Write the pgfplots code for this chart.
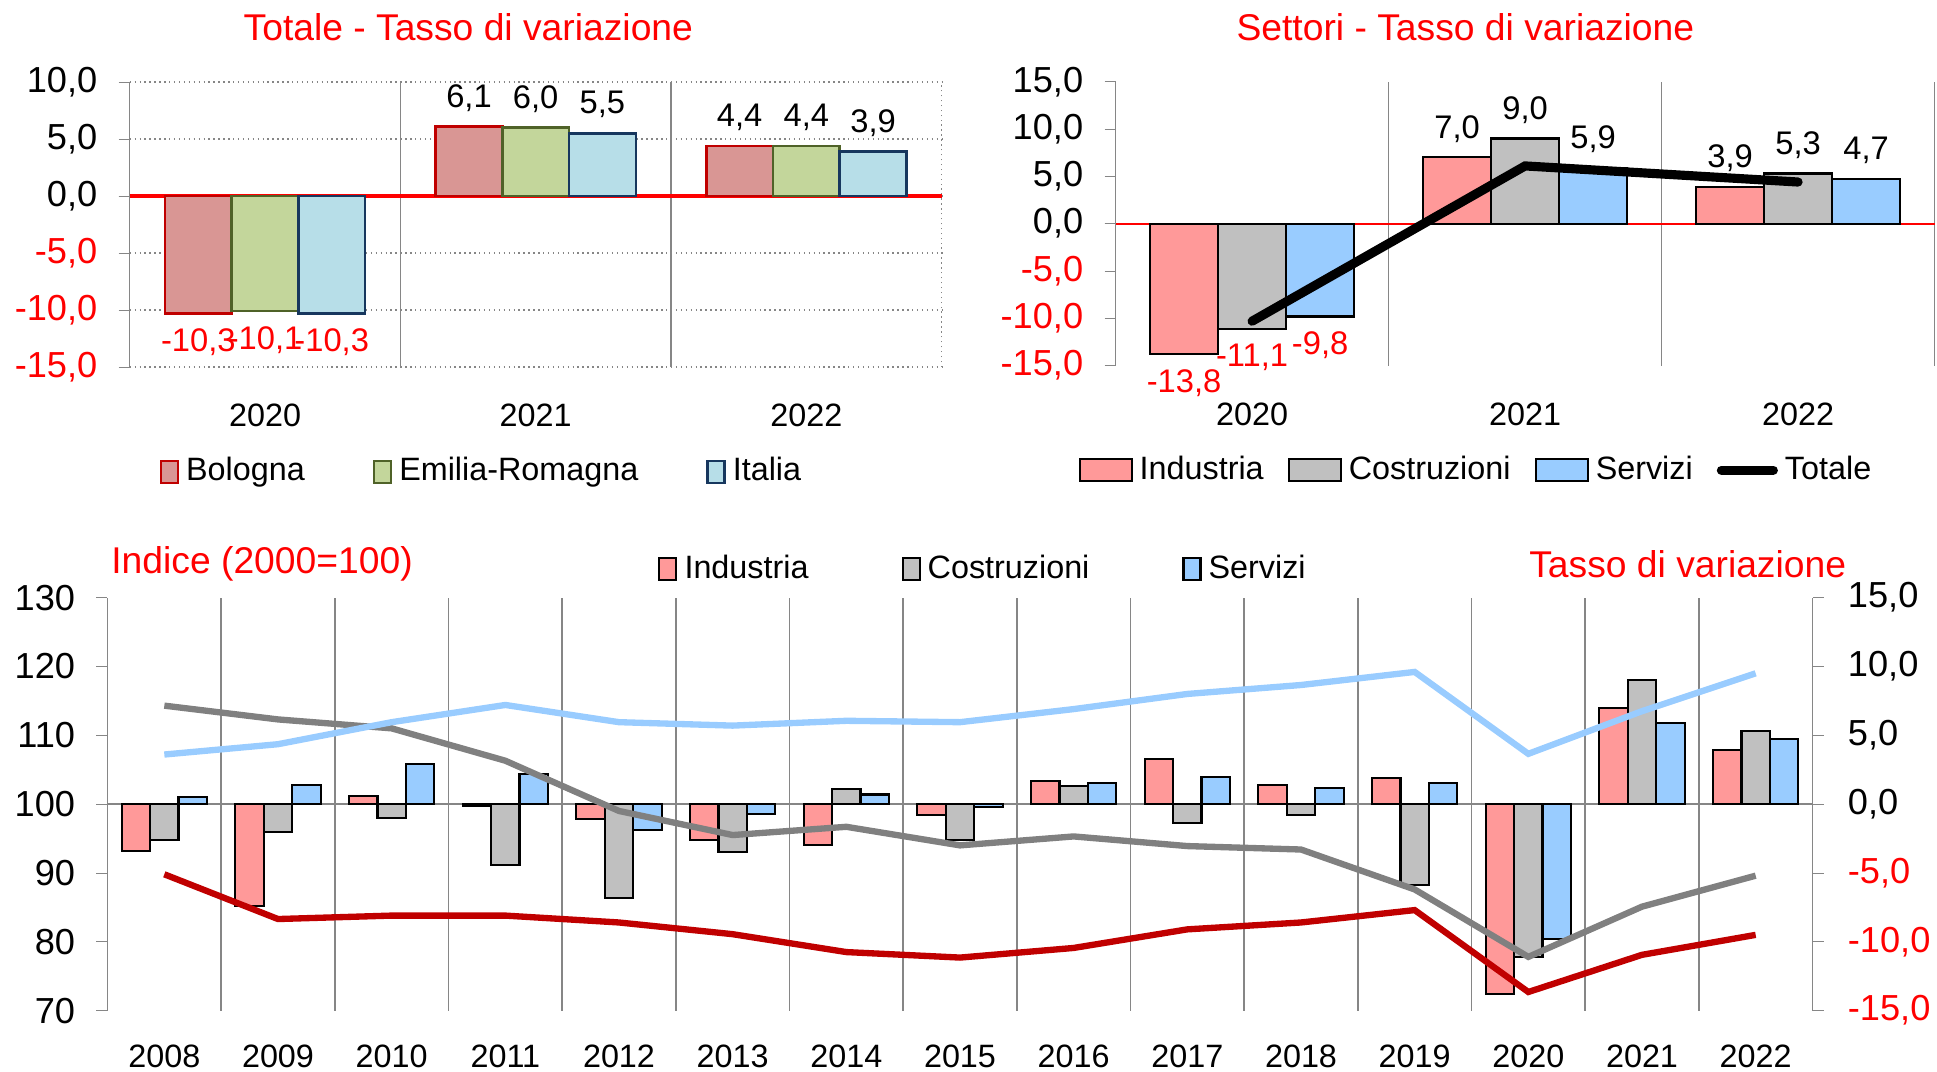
\documentclass[border=0pt]{standalone}
\usepackage{pgfplots}
\pgfplotsset{compat=1.18}
\usepackage{fontspec}
\setmainfont{Liberation Sans}

\definecolor{xred}{HTML}{FF0000}
\definecolor{axgray}{HTML}{868686}
\definecolor{bolfill}{HTML}{D99694}
\definecolor{boldraw}{HTML}{C00000}
\definecolor{erfill}{HTML}{C3D69B}
\definecolor{erdraw}{HTML}{4F6228}
\definecolor{itfill}{HTML}{B7DEE8}
\definecolor{itdraw}{HTML}{17375E}
\definecolor{indfill}{HTML}{FF9999}
\definecolor{cosfill}{HTML}{C0C0C0}
\definecolor{serfill}{HTML}{99CCFF}
\definecolor{indline}{HTML}{C00000}
\definecolor{cosline}{HTML}{808080}

\newcommand\fsT{\fontsize{10.6}{12}\selectfont}
\newcommand\fsY{\fontsize{10.3}{12}\selectfont}
\newcommand\fsX{\fontsize{9.2}{11}\selectfont}
\newcommand\fsL{\fontsize{9.3}{11}\selectfont}

\pgfplotsset{
  every axis title shift=0pt,
  panel/.style={
    scale only axis, anchor=south west,
    axis lines=left, axis line style={-, draw=axgray},
    x axis line style={draw=none},
    tick align=outside, major tick length=1.1mm,
    xtick style={draw=none}, ytick style={draw=axgray},
    yticklabel style={font=\fsY, xshift=-0.9mm},
    xticklabel style={font=\fsX, yshift=-1.4mm},
    minor grid style={axgray},
    title style={font=\fsT, text=xred, anchor=center},
    legend style={draw=none, fill=none, font=\fsX, legend columns=-1, anchor=west},
  },
  sq/.style={legend image code/.code={\draw[##1] (0mm,-1.1mm) rectangle (1.7mm,1.1mm);}},
  wide/.style={legend image code/.code={\draw[##1] (0mm,-1.1mm) rectangle (5.2mm,1.1mm);}},
  lineleg/.style={legend image code/.code={\draw[##1] (0mm,0mm) -- (5.2mm,0mm);}},
  lbl/.style={nodes near coords, point meta=explicit symbolic,
    visualization depends on={rawy \as \rawy},
    every node near coord/.append style={font=\fsL, inner sep=1.4mm},
    every node near coord/.append code={\ifdim\rawy pt<0pt \pgfkeysalso{/tikz/anchor=north}\else\pgfkeysalso{/tikz/anchor=south}\fi}},
}

\begin{document}
\begin{tikzpicture}
\useasboundingbox (0,0) rectangle (193.7mm,107.2mm);

% Totale - Tasso di variazione
\begin{axis}[panel, at={(12.97mm,70.5mm)}, width=81.2mm, height=28.5mm,
  ybar=0pt, bar width=6.67mm, sq,
  xmin=-0.5, xmax=2.5, ymin=-15, ymax=10,
  xtick={0,1,2}, xticklabels={2020,2021,2022},
  minor xtick={0.5,1.5}, xminorgrids,
  extra x ticks={2.5}, extra x tick labels={}, extra x tick style={grid=major},
  ytick={-15,-10,-5,0,5,10},
  yticklabels={{\textcolor{xred}{-15,0}},{\textcolor{xred}{-10,0}},{\textcolor{xred}{-5,0}},{0,0},{5,0},{10,0}},
  ymajorgrids, major grid style={densely dotted, axgray},
  extra y ticks={0}, extra y tick labels={},
  extra y tick style={grid=major, major grid style={solid, xred, line width=0.9pt}},
  title={Totale - Tasso di variazione}, title style={at={(0.417,1.191)}},
  legend style={at={(0.023,-0.368)}, /tikz/every even column/.append style={column sep=6.1mm}},
]
\addplot[lbl, fill=bolfill, draw=boldraw, line width=0.7pt] coordinates {(0,-10.3) [\textcolor{xred}{-10,3}] (1,6.1) [6,1] (2,4.4) [4,4]};
\addplot[lbl, fill=erfill, draw=erdraw, line width=0.7pt] coordinates {(0,-10.1) [\textcolor{xred}{-10,1}] (1,6.0) [6,0] (2,4.4) [4,4]};
\addplot[lbl, fill=itfill, draw=itdraw, line width=0.7pt] coordinates {(0,-10.3) [\textcolor{xred}{-10,3}] (1,5.5) [5,5] (2,3.9) [3,9]};
\legend{Bologna, Emilia-Romagna, Italia}
\end{axis}

% Settori - Tasso di variazione
\begin{axis}[panel, at={(111.56mm,70.63mm)}, width=81.9mm, height=28.4mm,
  ybar=0pt, bar width=6.8mm, wide,
  xmin=-0.5, xmax=2.5, ymin=-15, ymax=15,
  xtick={0,1,2}, xticklabels={2020,2021,2022},
  minor xtick={0.5,1.5,2.5}, xminorgrids,
  ytick={-15,-10,-5,0,5,10,15},
  yticklabels={{\textcolor{xred}{-15,0}},{\textcolor{xred}{-10,0}},{\textcolor{xred}{-5,0}},{0,0},{5,0},{10,0},{15,0}},
  extra y ticks={0}, extra y tick labels={},
  extra y tick style={grid=major, major grid style={xred, line width=0.6pt}},
  title={Settori - Tasso di variazione}, title style={at={(0.427,1.192)}},
  legend style={at={(-0.059,-0.368)}, /tikz/every even column/.append style={column sep=1.7mm}},
]
\addplot[lbl, fill=indfill, draw=black, line width=0.6pt] coordinates {(0,-13.8) [\textcolor{xred}{-13,8}] (1,7.0) [7,0] (2,3.9) [3,9]};
\addplot[lbl, fill=cosfill, draw=black, line width=0.6pt] coordinates {(0,-11.1) [\textcolor{xred}{-11,1}] (1,9.0) [9,0] (2,5.3) [5,3]};
\addplot[lbl, fill=serfill, draw=black, line width=0.6pt] coordinates {(0,-9.8) [\textcolor{xred}{-9,8}] (1,5.9) [5,9] (2,4.7) [4,7]};
\addplot[sharp plot, lineleg, black, line width=2.6pt, line cap=round] coordinates {(0,-10.3) (1,6.1) (2,4.4)};
\legend{Industria, Costruzioni, Servizi, Totale}
\end{axis}

% Tassi di variazione settoriali (asse destro)
\begin{axis}[scale only axis, anchor=south west, at={(10.75mm,6.14mm)}, width=170.5mm, height=41.3mm,
  axis y line*=right, axis x line*=bottom, axis line style={-, draw=axgray}, x axis line style={draw=none},
  tick align=outside, major tick length=1.1mm, ytick style={draw=axgray}, xtick=\empty,
  xmin=-0.5, xmax=14.5, ymin=-15, ymax=15,
  ytick={-15,-10,-5,0,5,10,15},
  yticklabels={{\textcolor{xred}{-15,0}},{\textcolor{xred}{-10,0}},{\textcolor{xred}{-5,0}},{0,0},{5,0},{10,0},{15,0}},
  yticklabel style={font=\fsY, xshift=1.2mm},
  ybar=0pt, bar width=2.84mm, sq,
  extra y ticks={0}, extra y tick labels={},
  extra y tick style={grid=major, major grid style={axgray, line width=0.8pt}},
  title={Tasso di variazione}, title style={at={(1.027,1.081)}, anchor=east, font=\fsT, text=xred},
  legend style={at={(0.3165,1.069)}, anchor=west, draw=none, fill=none, font=\fsX, legend columns=-1,
    /tikz/every even column/.append style={column sep=8.6mm}},
]
\addplot[fill=indfill, draw=black, line width=0.6pt] coordinates {
 (0,-3.4) (1,-7.4) (2,0.6) (3,-0.1) (4,-1.1) (5,-2.6) (6,-3.0) (7,-0.8)
 (8,1.7) (9,3.3) (10,1.4) (11,1.9) (12,-13.8) (13,7.0) (14,3.9)};
\addplot[fill=cosfill, draw=black, line width=0.6pt] coordinates {
 (0,-2.6) (1,-2.0) (2,-1.0) (3,-4.4) (4,-6.8) (5,-3.5) (6,1.1) (7,-2.6)
 (8,1.3) (9,-1.4) (10,-0.8) (11,-5.9) (12,-11.1) (13,9.0) (14,5.3)};
\addplot[fill=serfill, draw=black, line width=0.6pt] coordinates {
 (0,0.5) (1,1.4) (2,2.9) (3,2.2) (4,-1.9) (5,-0.7) (6,0.7) (7,-0.2)
 (8,1.5) (9,2.0) (10,1.2) (11,1.5) (12,-9.8) (13,5.9) (14,4.7)};
\legend{Industria, Costruzioni, Servizi}
\end{axis}

% Indici 2000=100 (asse sinistro)
\begin{axis}[scale only axis, anchor=south west, at={(10.75mm,6.14mm)}, width=170.5mm, height=41.3mm,
  axis y line*=left, axis x line*=bottom, axis line style={-, draw=axgray}, x axis line style={draw=none},
  tick align=outside, major tick length=1.1mm, ytick style={draw=axgray}, xtick style={draw=none},
  xmin=-0.5, xmax=14.5, ymin=70, ymax=130,
  xtick={0,...,14},
  xticklabels={2008,2009,2010,2011,2012,2013,2014,2015,2016,2017,2018,2019,2020,2021,2022},
  minor xtick={0.5,1.5,...,13.5}, xminorgrids, minor grid style={axgray},
  ytick={70,80,90,100,110,120,130}, yticklabels={70,80,90,100,110,120,130},
  yticklabel style={font=\fsY, xshift=-0.9mm}, xticklabel style={font=\fsX, yshift=-1.1mm},
  title={Indice (2000=100)}, title style={at={(-0.005,1.081)}, anchor=west, font=\fsT, text=xred},
]
\addplot[indline, line width=1.8pt] coordinates {
 (0,89.8) (1,83.3) (2,83.8) (3,83.8) (4,82.8) (5,81.1) (6,78.5) (7,77.7)
 (8,79.1) (9,81.8) (10,82.8) (11,84.6) (12,72.7) (13,78.1) (14,81.0)};
\addplot[cosline, line width=1.8pt] coordinates {
 (0,114.3) (1,112.3) (2,111.0) (3,106.3) (4,99.0) (5,95.5) (6,96.7) (7,94.0)
 (8,95.3) (9,93.9) (10,93.4) (11,87.6) (12,77.8) (13,85.1) (14,89.6)};
\addplot[serfill, line width=1.8pt] coordinates {
 (0,107.2) (1,108.7) (2,111.9) (3,114.4) (4,111.9) (5,111.4) (6,112.1) (7,111.9)
 (8,113.8) (9,116.0) (10,117.3) (11,119.2) (12,107.3) (13,113.5) (14,119.0)};
\end{axis}
\end{tikzpicture}
\end{document}
